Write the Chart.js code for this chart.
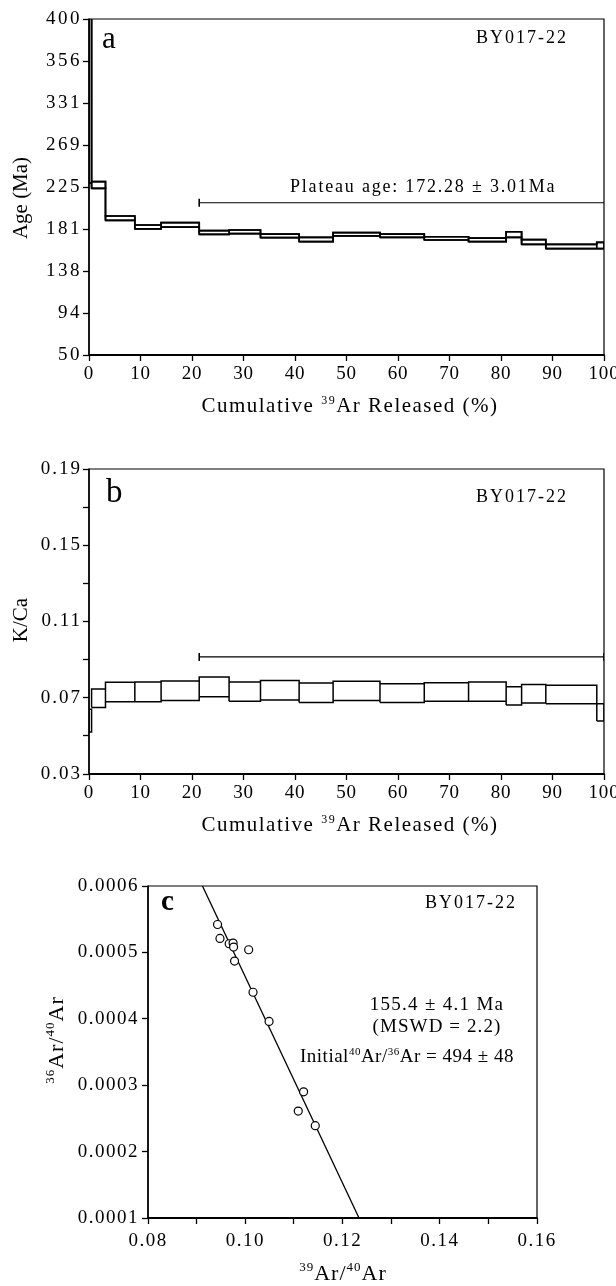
<!DOCTYPE html>
<html><head><meta charset="utf-8">
<script src="https://cdn.jsdelivr.net/npm/chart.js@4.4.0/dist/chart.umd.min.js"></script>
<style>
html,body{margin:0;padding:0;background:#fff;}
#wrap{position:relative;width:616px;height:1286px;overflow:hidden;background:#fff;}
canvas{position:absolute;left:0;}
</style></head><body>
<div id="wrap">
<canvas id="ca" width="616" height="430" style="top:0px;width:616px;height:430px"></canvas>
<canvas id="cb" width="616" height="420" style="top:440px;width:616px;height:420px"></canvas>
<canvas id="cc" width="616" height="426" style="top:860px;width:616px;height:426px"></canvas>
</div>
<script>
// ---------- data ----------
const stepEdges = [0, 0.5, 3.2, 8.9, 14.0, 21.4, 27.2, 33.3, 40.8, 47.4, 56.5, 65.1, 73.7, 81.0, 84.0, 88.7, 98.6, 100];
const ageLow  = [229, 223.6, 190.3, 181.3, 183.3, 175.7, 176.4, 172.2, 168.0, 174.0, 172.6, 169.8, 168.0, 172.6, 165.3, 160.9, 160.9];
const ageHigh = [620, 230.5, 194.8, 185.4, 187.8, 179.5, 180.2, 176.0, 172.6, 177.4, 176.0, 173.2, 171.7, 178.4, 170.2, 165.3, 167.4];
const kcLow  = [0.052, 0.0649, 0.0679, 0.0679, 0.0686, 0.0705, 0.0681, 0.0688, 0.0675, 0.0685, 0.0675, 0.0681, 0.0681, 0.0662, 0.0672, 0.0668, 0.0578];
const kcHigh = [0.0640, 0.0746, 0.0781, 0.0783, 0.0788, 0.0809, 0.0783, 0.0791, 0.0777, 0.0786, 0.0774, 0.0779, 0.0783, 0.0758, 0.0770, 0.0765, 0.0668];
const plateauRange = [21.4, 100];
const plateauAgeLevel = 208.6;
const plateauKcLevel = 0.0914;
const ageTickLabels = ['50', '94', '138', '181', '225', '269', '331', '356', '400'];
const kcTickLabels = ['0.03', '0.07', '0.11', '0.15', '0.19'];
const cumTickLabels = ['0', '10', '20', '30', '40', '50', '60', '70', '80', '90', '100'];
const isoX = [0.0943, 0.0948, 0.0967, 0.0975, 0.0976, 0.0978, 0.1007, 0.1016, 0.1049, 0.1120, 0.1109, 0.1144];
const isoY = [0.000542, 0.000521, 0.000513, 0.000514, 0.000508, 0.000487, 0.000504, 0.000440, 0.000396, 0.000290, 0.000261, 0.000239];
const fitX = [0.0912, 0.1234];
const fitY = [0.0006, 0.0001];
const isoXTickLabels = ['0.08', '0.10', '0.12', '0.14', '0.16'];
const isoYTickLabels = ['0.0001', '0.0002', '0.0003', '0.0004', '0.0005', '0.0006'];

// ---------- helpers ----------
const FONT = "'Liberation Serif','Times New Roman',Times,serif";
Chart.defaults.font.family = FONT;
Chart.defaults.color = '#000';

function boxPath(edges, lo, hi) {
  const pts = [];
  for (let i = 0; i < lo.length; i++) {
    const x0 = edges[i], x1 = edges[i + 1];
    pts.push({x: x0, y: lo[i]}, {x: x0, y: hi[i]}, {x: x1, y: hi[i]}, {x: x1, y: lo[i]}, {x: x0, y: lo[i]});
    pts.push({x: (x0 + x1) / 2, y: null});
  }
  return pts;
}
function stepPath(edges, vals) {
  const pts = [];
  for (let i = 0; i < vals.length; i++) {
    pts.push({x: edges[i], y: vals[i]}, {x: edges[i + 1], y: vals[i]});
  }
  return pts;
}

function fixScale(w, h) {
  return function (s) {
    if (w != null) s.width = w;
    if (h != null) s.height = h;
    s.paddingLeft = 0; s.paddingRight = 0; s.paddingTop = 0; s.paddingBottom = 0;
  };
}

function drawRich(ctx, segs, x, y, o) {
  o = o || {};
  ctx.save();
  ctx.fillStyle = '#000';
  ctx.textBaseline = 'alphabetic';
  ctx.textAlign = 'left';
  ctx.letterSpacing = (o.ls || 0) + 'px';
  const ws = [];
  let total = 0;
  for (const s of segs) {
    ctx.font = (s.b ? 'bold ' : '') + s.size + 'px ' + FONT;
    const w = ctx.measureText(s.t).width;
    ws.push(w); total += w;
  }
  ctx.translate(x, y);
  if (o.rot) ctx.rotate(o.rot);
  let cx = o.align === 'left' ? 0 : (o.align === 'right' ? -total : -total / 2);
  segs.forEach((s, i) => {
    ctx.font = (s.b ? 'bold ' : '') + s.size + 'px ' + FONT;
    ctx.fillText(s.t, cx, s.dy || 0);
    cx += ws[i];
  });
  ctx.restore();
}

function lsPlugin(map) {
  return {
    id: 'lsp',
    beforeDraw(chart) {
      for (const id in chart.scales) {
        const s = chart.scales[id];
        if (s._lsWrapped) continue;
        const orig = s.drawLabels;
        const ls = map[id] || 0;
        s.drawLabels = function (a) {
          const c = this.ctx; c.save(); c.letterSpacing = ls + 'px'; orig.call(this, a); c.restore();
        };
        s._lsWrapped = true;
      }
    }
  };
}

function framePlugin() {
  return {
    id: 'frame',
    afterDraw(chart) {
      const {left, right, top, bottom} = chart.chartArea;
      const c = chart.ctx;
      c.save();
      c.strokeStyle = '#000';
      c.lineWidth = 1.2;
      c.beginPath();
      c.moveTo(left, top); c.lineTo(right, top); c.lineTo(right, bottom);
      c.stroke();
      c.lineWidth = 1.8;
      c.beginPath();
      c.moveTo(left, top - 0.6); c.lineTo(left, bottom); c.lineTo(right + 0.6, bottom);
      c.stroke();
      c.restore();
    }
  };
}

function axisCommon() {
  return {
    type: 'linear',
    border: {display: false},
    grid: {display: true, drawOnChartArea: false, drawTicks: true, tickLength: 6, color: '#000', tickWidth: 1.3},
  };
}

const lineDs = (data, w) => ({data: data, showLine: true, spanGaps: false, borderColor: '#000', borderWidth: w, pointRadius: 0, borderJoinStyle: 'miter', tension: 0});

// ---------- panel a ----------
const textA = {
  id: 'textA',
  afterDraw(chart) {
    const c = chart.ctx;
    drawRich(c, [{t: 'a', size: 31}], 102, 48, {align: 'left'});
    drawRich(c, [{t: 'BY017-22', size: 18}], 568, 43, {align: 'right', ls: 2});
    drawRich(c, [{t: 'Plateau age: 172.28 \u00b1 3.01Ma', size: 18}], 290, 192, {align: 'left', ls: 1.8});
    drawRich(c, [{t: 'Age (Ma)', size: 21}], 27, 198, {rot: -Math.PI / 2});
    drawRich(c, [{t: 'Cumulative ', size: 21}, {t: '39', size: 12, dy: -8}, {t: 'Ar Released (%)', size: 21}], 350, 412, {ls: 1.5});
  }
};

new Chart(document.getElementById('ca'), {
  type: 'scatter',
  data: {
    datasets: [
      lineDs(boxPath(stepEdges, ageLow, ageHigh), 1.7),
      lineDs(stepPath(stepEdges, ageHigh), 1.7),
      lineDs(stepPath(stepEdges, ageLow), 1.7),
      {data: [{x: plateauRange[0], y: plateauAgeLevel}, {x: plateauRange[1], y: plateauAgeLevel}], showLine: true, borderColor: '#000', borderWidth: 1.2, pointRadius: [4, 0], pointStyle: 'line', rotation: 90, pointBorderWidth: 1.6, pointBorderColor: '#000'}
    ]
  },
  options: {
    responsive: false, animation: false,
    layout: {padding: {top: 19, right: 12, left: 0, bottom: 0}},
    plugins: {legend: {display: false}, tooltip: {enabled: false}},
    scales: {
      x: Object.assign(axisCommon(), {
        min: 0, max: 100,
        ticks: {stepSize: 10, autoSkip: false, maxRotation: 0, padding: 2, font: {size: 19}, callback: (v, i) => cumTickLabels[i]},
        afterFit: fixScale(null, 75)
      }),
      y: Object.assign(axisCommon(), {
        min: 50, max: 400,
        ticks: {stepSize: 43.75, autoSkip: false, padding: 1, font: {size: 19}, callback: (v, i) => ageTickLabels[i]},
        afterFit: fixScale(89, null)
      })
    }
  },
  plugins: [lsPlugin({x: 0.8, y: 2.5}), framePlugin(), textA]
});

// ---------- panel b ----------
const textB = {
  id: 'textB',
  afterDraw(chart) {
    const c = chart.ctx;
    drawRich(c, [{t: 'b', size: 33}], 106, 62, {align: 'left'});
    drawRich(c, [{t: 'BY017-22', size: 18}], 568, 62, {align: 'right', ls: 2});
    drawRich(c, [{t: 'K/Ca', size: 21}], 27, 180, {rot: -Math.PI / 2});
    drawRich(c, [{t: 'Cumulative ', size: 21}, {t: '39', size: 12, dy: -8}, {t: 'Ar Released (%)', size: 21}], 350, 391, {ls: 1.5});
  }
};

new Chart(document.getElementById('cb'), {
  type: 'scatter',
  data: {
    datasets: [
      lineDs(boxPath(stepEdges, kcLow, kcHigh), 1.5),
      {data: [{x: plateauRange[0], y: plateauKcLevel}, {x: plateauRange[1], y: plateauKcLevel}], showLine: true, borderColor: '#000', borderWidth: 1.2, pointRadius: [4, 4], pointStyle: 'line', rotation: 90, pointBorderWidth: 1.6, pointBorderColor: '#000'}
    ]
  },
  options: {
    responsive: false, animation: false,
    layout: {padding: {top: 29, right: 12, left: 0, bottom: 0}},
    plugins: {legend: {display: false}, tooltip: {enabled: false}},
    scales: {
      x: Object.assign(axisCommon(), {
        min: 0, max: 100,
        ticks: {stepSize: 10, autoSkip: false, maxRotation: 0, padding: 2, font: {size: 19}, callback: (v, i) => cumTickLabels[i]},
        afterFit: fixScale(null, 86)
      }),
      y: Object.assign(axisCommon(), {
        min: 0.03, max: 0.19,
        ticks: {stepSize: 0.02, autoSkip: false, padding: 1, font: {size: 19}, callback: (v, i) => (i % 2 === 0 ? kcTickLabels[i / 2] : '')},
        afterFit: fixScale(89, null)
      })
    }
  },
  plugins: [lsPlugin({x: 0.8, y: 2}), framePlugin(), textB]
});

// ---------- panel c ----------
const textC = {
  id: 'textC',
  afterDraw(chart) {
    const c = chart.ctx;
    drawRich(c, [{t: 'c', size: 29, b: true}], 161, 50, {align: 'left'});
    drawRich(c, [{t: 'BY017-22', size: 18}], 425, 48, {align: 'left', ls: 2});
    drawRich(c, [{t: '155.4 \u00b1 4.1 Ma', size: 19}], 437, 150, {ls: 1.3});
    drawRich(c, [{t: '(MSWD = 2.2)', size: 19}], 437, 172, {ls: 1.1});
    drawRich(c, [{t: 'Initial', size: 19}, {t: '40', size: 11, dy: -7}, {t: 'Ar/', size: 19}, {t: '36', size: 11, dy: -7}, {t: 'Ar = 494 \u00b1 48', size: 19}], 300, 202, {align: 'left', ls: 0.5});
    drawRich(c, [{t: '39', size: 13, dy: -9}, {t: 'Ar/', size: 22}, {t: '40', size: 13, dy: -9}, {t: 'Ar', size: 22}], 343, 420, {ls: 1});
    drawRich(c, [{t: '36', size: 13, dy: -9}, {t: 'Ar/', size: 22}, {t: '40', size: 13, dy: -9}, {t: 'Ar', size: 22}], 63, 180, {rot: -Math.PI / 2, ls: 1});
  }
};

new Chart(document.getElementById('cc'), {
  type: 'scatter',
  data: {
    datasets: [
      {data: isoX.map((x, i) => ({x: x, y: isoY[i]})), pointRadius: 4, pointBorderWidth: 1.2, pointBackgroundColor: '#fff', pointBorderColor: '#000', showLine: false},
      {data: fitX.map((x, i) => ({x: x, y: fitY[i]})), showLine: true, borderColor: '#000', borderWidth: 1.3, pointRadius: 0}
    ]
  },
  options: {
    responsive: false, animation: false,
    layout: {padding: {top: 26, right: 79, left: 0, bottom: 0}},
    plugins: {legend: {display: false}, tooltip: {enabled: false}},
    scales: {
      x: Object.assign(axisCommon(), {
        min: 0.08, max: 0.16,
        ticks: {stepSize: 0.01, autoSkip: false, maxRotation: 0, padding: 6, font: {size: 19}, callback: (v, i) => (i % 2 === 0 ? isoXTickLabels[i / 2] : '')},
        afterFit: fixScale(null, 68)
      }),
      y: Object.assign(axisCommon(), {
        min: 0.0001, max: 0.0006,
        ticks: {stepSize: 0.0001, autoSkip: false, padding: 3, font: {size: 19}, callback: (v, i) => isoYTickLabels[i]},
        afterFit: fixScale(148, null)
      })
    }
  },
  plugins: [lsPlugin({x: 1.5, y: 1.5}), framePlugin(), textC]
});
</script>
</body></html>
